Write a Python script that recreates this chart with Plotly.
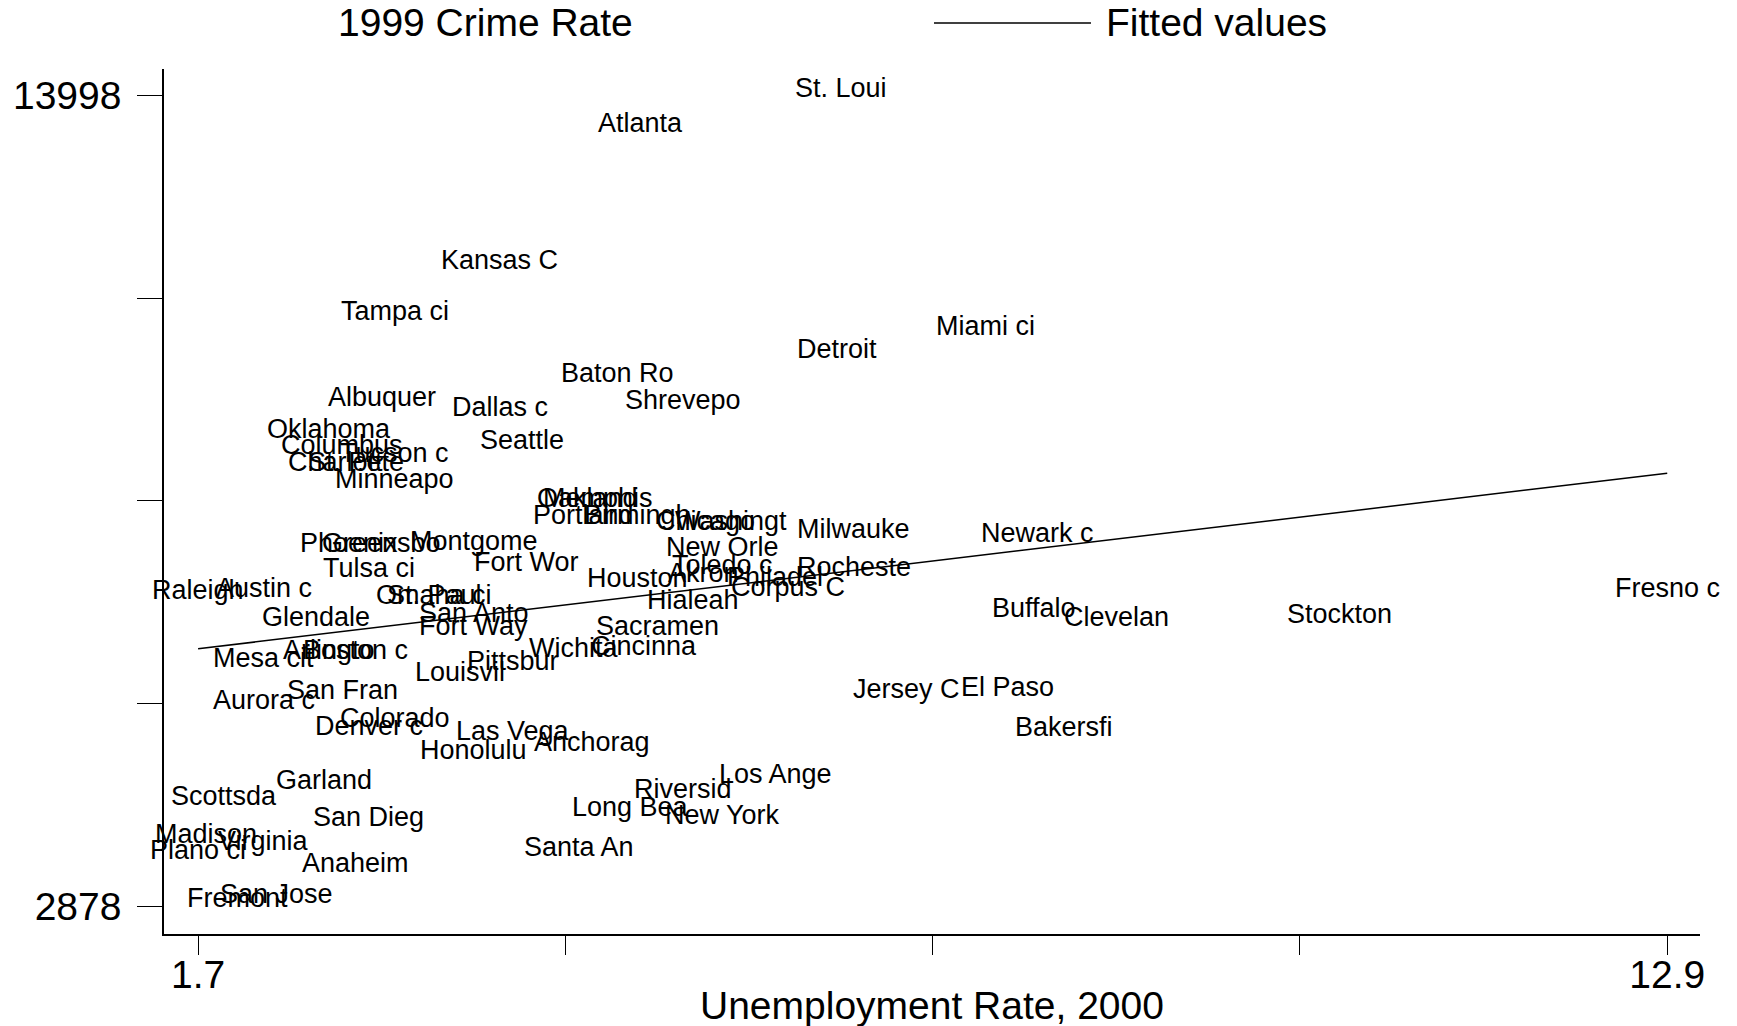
import numpy as np
import plotly.graph_objects as go

# ---- data ----
cities = ["St. Loui", "Atlanta", "Kansas C", "Tampa ci", "Miami ci", "Detroit", "Baton Ro",
          "Shrevepo", "Albuquer", "Dallas c", "Oklahoma", "Seattle", "Columbus", "Tucson c",
          "Charlott", "St. Pete", "Minneapo", "Oakland", "Memphis", "Portland", "Birmingh",
          "Chicago", "Washingt", "Milwauke", "Newark c", "Phoenix", "Greensbo", "Montgome",
          "Fort Wor", "New Orle", "Tulsa ci", "Toledo c", "Rocheste", "Houston", "Akron",
          "Philadel", "Corpus C", "Hialeah", "Raleigh", "Austin c", "Omaha ci", "St. Paul",
          "San Anto", "Fort Way", "Glendale", "Sacramen", "Cincinna", "Wichita", "Pittsbur",
          "Louisvil", "Arlingto", "Boston c", "Mesa cit", "San Fran", "Aurora c", "Colorado",
          "Denver c", "Las Vega", "Anchorag", "Honolulu", "Jersey C", "El Paso", "Bakersfi",
          "Buffalo", "Clevelan", "Stockton", "Fresno c", "Los Ange", "Riversid", "Long Bea",
          "New York", "Santa An", "Garland", "Scottsda", "San Dieg", "Madison", "Virginia",
          "Plano ci", "Anaheim", "San Jose", "Fremont"]

unemp = [6.6, 5.07, 4.0, 3.2, 7.7, 6.57, 4.9,
         5.4, 3.1, 4.0, 2.7, 4.17, 2.8, 3.2,
         2.75, 2.9, 3.2, 4.67, 4.75, 4.64, 5.05,
         5.57, 5.76, 6.7, 8.1, 2.85, 3.1, 3.8,
         4.2, 5.7, 3.0, 5.7, 6.7, 5.05, 5.55,
         6.1, 6.2, 5.47, 1.7, 2.2, 3.5, 3.5,
         3.8, 3.8, 2.6, 5.2, 5.1, 4.56, 4.1,
         3.7, 2.7, 2.9, 2.2, 2.8, 2.2, 3.2,
         3.0, 4.1, 4.7, 3.8, 7.1, 7.87, 8.3,
         8.07, 8.7, 10.4, 12.9, 6.1, 5.4, 5.0,
         5.7, 4.6, 2.66, 1.9, 3.0, 1.76, 2.2,
         1.7, 2.9, 2.3, 2.0]

crime = [13998, 13512, 11628, 10929, 10732, 10413, 10079,
         9714, 9760, 9623, 9319, 9167, 9091, 8985,
         8863, 8863, 8635, 8362, 8362, 8134, 8134,
         8058, 8058, 7937, 7891, 7754, 7754, 7785,
         7496, 7694, 7405, 7451, 7420, 7268, 7344,
         7283, 7147, 6964, 7101, 7131, 7040, 7040,
         6797, 6615, 6737, 6615, 6342, 6311, 6129,
         5977, 6281, 6281, 6175, 5734, 5597, 5354,
         5248, 5172, 5020, 4914, 5749, 5780, 5233,
         6858, 6737, 6782, 7131, 4579, 4382, 4124,
         4017, 3577, 4503, 4276, 3987, 3759, 3668,
         3546, 3364, 2939, 2878]

x_tickvals = [1.7, 4.5, 7.3, 10.1, 12.9]
x_ticktext = ["1.7", "", "", "", "12.9"]
y_tickvals = [2878, 5658, 8438, 11218, 13998]
y_ticktext = ["2878", "", "", "", "13998"]

legend_labels = ["1999 Crime Rate", "Fitted values"]
x_title = "Unemployment Rate, 2000"

FONT = "Liberation Sans, Arial, sans-serif"

# ---- fitted values (OLS) ----
slope, intercept = np.polyfit(unemp, crime, 1)
fit_x = [min(unemp), max(unemp)]
fit_y = [intercept + slope * v for v in fit_x]

fig = go.Figure()
fig.add_trace(go.Scatter(x=unemp, y=crime, mode="markers",
                         marker=dict(size=1, opacity=0), text=cities,
                         hoverinfo="text", showlegend=False))
fig.add_trace(go.Scatter(x=fit_x, y=fit_y, mode="lines",
                         line=dict(color="black", width=1.5), showlegend=False,
                         hoverinfo="skip"))

annotations = []
for name, xv, yv in zip(cities, unemp, crime):
    annotations.append(dict(x=xv, y=yv, xref="x", yref="y", text=name,
                            showarrow=False, xanchor="center", yanchor="middle",
                            yshift=8, font=dict(family=FONT, size=27, color="black")))

# legend (manual, Stata style)
annotations.append(dict(x=0.1120, y=1.0532, xref="paper", yref="paper",
                        text=legend_labels[0], showarrow=False, xanchor="left",
                        yanchor="middle", font=dict(family=FONT, size=39, color="black")))
annotations.append(dict(x=0.6120, y=1.0532, xref="paper", yref="paper",
                        text=legend_labels[1], showarrow=False, xanchor="left",
                        yanchor="middle", font=dict(family=FONT, size=39, color="black")))
# x-axis title
annotations.append(dict(x=0.5, y=-0.0832, xref="paper", yref="paper",
                        text=x_title, showarrow=False, xanchor="center",
                        yanchor="middle", font=dict(family=FONT, size=39, color="black")))

shapes = [dict(type="line", xref="paper", yref="paper", x0=0.5013, x1=0.6035,
               y0=1.0532, y1=1.0532, line=dict(color="black", width=1.5))]

fig.update_layout(
    width=1737, height=1026,
    margin=dict(l=164, r=37, t=69, b=92),
    paper_bgcolor="white", plot_bgcolor="white",
    showlegend=False,
    annotations=annotations,
    shapes=shapes,
    font=dict(family=FONT, color="black"),
    xaxis=dict(range=[1.44, 13.15], tickvals=x_tickvals, ticktext=x_ticktext,
               showgrid=False, zeroline=False, showline=True, linecolor="black",
               linewidth=1.5, ticks="outside", ticklen=19, tickwidth=1,
               tickcolor="black", tickfont=dict(family=FONT, size=39),
               ticklabelstandoff=-14, automargin=False),
    yaxis=dict(range=[2498, 14363], tickvals=y_tickvals, ticktext=y_ticktext,
               showgrid=False, zeroline=False, showline=True, linecolor="black",
               linewidth=1.5, ticks="outside", ticklen=25, tickwidth=1,
               tickcolor="black", tickfont=dict(family=FONT, size=39),
               ticklabelstandoff=8, automargin=False),
)

fig.write_html("out.html")
